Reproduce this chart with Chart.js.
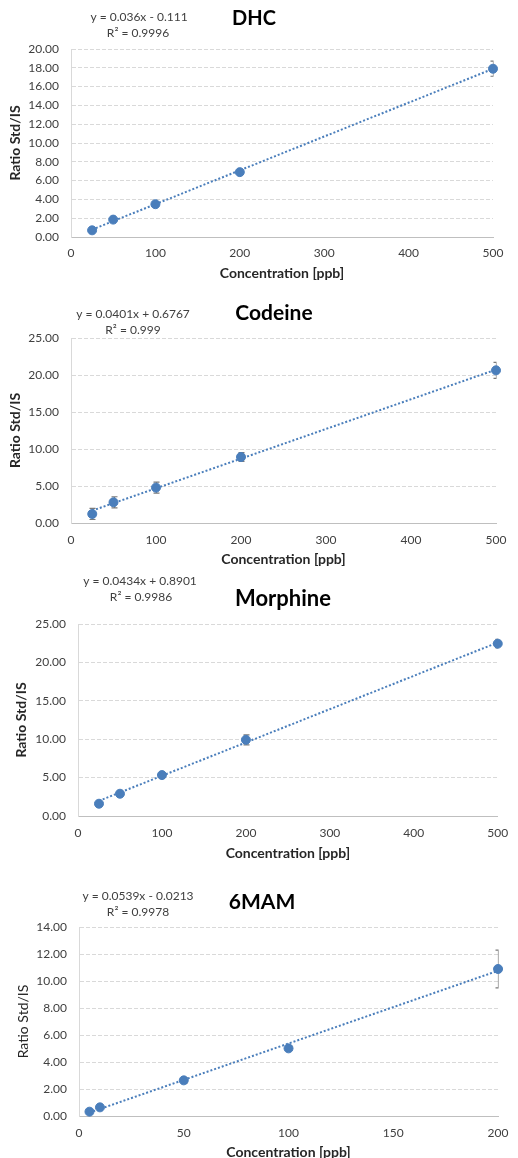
<!DOCTYPE html>
<html>
<head>
<meta charset="utf-8">
<script src="https://cdn.jsdelivr.net/npm/chart.js@4"></script>
<style>
body { margin: 0; background: #fff; overflow: hidden; }
#page { position: relative; width: 518px; height: 1158px; overflow: hidden; }
canvas { position: absolute; left: 0; }
</style>
</head>
<body>
<div id="page">
    <canvas id="dhc-chart" width="518" height="290" style="top:0px"></canvas>
    <canvas id="codeine-chart" width="518" height="290" style="top:290px"></canvas>
    <canvas id="morphine-chart" width="518" height="300" style="top:565px"></canvas>
    <canvas id="mam-chart" width="518" height="300" style="top:870px"></canvas>
</div>
<script>
// values
const dhcConc = [25, 50, 100, 200, 500];
const dhcRatio = [0.71, 1.85, 3.49, 6.90, 17.90];
const dhcError = [0.1, 0.1, 0.15, 0.2, 0.8];
const dhcTrend = [0.79, 17.89];
const dhcYTicks = [0, 2, 4, 6, 8, 10, 12, 14, 16, 18, 20];

const codeineConc = [25, 50, 100, 200, 500];
const codeineRatio = [1.22, 2.80, 4.78, 8.92, 20.63];
const codeineError = [0.75, 0.75, 0.75, 0.6, 1.08];
const codeineTrend = [1.68, 20.73];
const codeineYTicks = [0, 5, 10, 15, 20, 25];

const morphineConc = [25, 50, 100, 200, 500];
const morphineRatio = [1.60, 2.90, 5.33, 9.92, 22.44];
const morphineError = [0.1, 0.15, 0.15, 0.65, 0.55];
const morphineTrend = [1.98, 22.59];
const morphineYTicks = [0, 5, 10, 15, 20, 25];

const mamConc = [5, 10, 50, 100, 200];
const mamRatio = [0.32, 0.64, 2.64, 5.01, 10.89];
const mamError = [0.05, 0.05, 0.2, 0.15, 1.4];
const mamTrend = [0.25, 10.76];
const mamYTicks = [0, 2, 4, 6, 8, 10, 12, 14];

const xTicks500 = [0, 100, 200, 300, 400, 500];
const xTicks200 = [0, 50, 100, 150, 200];

const blue = '#4a7ebb';

Chart.defaults.font.family = 'Lato, "Open Sans", sans-serif';
Chart.defaults.color = '#404040';

// error bars, clipped left/right to the plot like Excel does
const errorBars = {
    id: 'errorBars',
    beforeDatasetsDraw(chart) {
        const ds = chart.data.datasets[1];
        const xs = chart.scales.x, ys = chart.scales.y;
        const area = chart.chartArea;
        const ctx = chart.ctx;
        ctx.save();
        ctx.beginPath();
        ctx.rect(area.left, 0, area.right - area.left + 0.5, chart.height);
        ctx.clip();
        ctx.strokeStyle = '#7a7a7a';
        ctx.lineWidth = 1.2;
        ds.data.forEach((p, i) => {
            const e = ds.errors[i];
            const px = Math.round(xs.getPixelForValue(p.x)) + 0.5;
            const top = ys.getPixelForValue(p.y + e);
            const bot = ys.getPixelForValue(p.y - e);
            ctx.beginPath();
            ctx.moveTo(px, top); ctx.lineTo(px, bot);
            ctx.moveTo(px - 3, top); ctx.lineTo(px + 3, top);
            ctx.moveTo(px - 3, bot); ctx.lineTo(px + 3, bot);
            ctx.stroke();
        });
        ctx.restore();
    }
};

// title and trendline equation texts
const textLabels = {
    id: 'textLabels',
    afterDraw(chart) {
        const items = labelSets[chart.canvas.id] || [];
        const ctx = chart.ctx;
        ctx.save();
        ctx.textAlign = 'center';
        ctx.textBaseline = 'middle';
        items.forEach(it => {
            ctx.font = it.font;
            ctx.fillStyle = it.color;
            ctx.fillText(it.text, it.x, it.y);
        });
        ctx.restore();
    }
};

const eqFont = '12px Lato, "Open Sans", sans-serif';
const labelSets = {
    'dhc-chart': [
        {text: 'DHC', x: 254, y: 19, font: 'bold 20px Lato, sans-serif', color: '#000'},
        {text: 'y = 0.036x - 0.111', x: 139, y: 17, font: eqFont, color: '#404040'},
        {text: 'R² = 0.9996', x: 138, y: 33, font: eqFont, color: '#404040'}
    ],
    'codeine-chart': [
        {text: 'Codeine', x: 274, y: 23, font: 'bold 21px Lato, sans-serif', color: '#000'},
        {text: 'y = 0.0401x + 0.6767', x: 133, y: 24, font: eqFont, color: '#404040'},
        {text: 'R² = 0.999', x: 133, y: 40, font: eqFont, color: '#404040'}
    ],
    'morphine-chart': [
        {text: 'Morphine', x: 283, y: 34, font: 'bold 22px Lato, sans-serif', color: '#000'},
        {text: 'y = 0.0434x + 0.8901', x: 140, y: 16, font: eqFont, color: '#404040'},
        {text: 'R² = 0.9986', x: 141, y: 32, font: eqFont, color: '#404040'}
    ],
    'mam-chart': [
        {text: '6MAM', x: 262, y: 32, font: 'bold 21px Lato, sans-serif', color: '#000'},
        {text: 'y = 0.0539x - 0.0213', x: 138, y: 26, font: eqFont, color: '#404040'},
        {text: 'R² = 0.9978', x: 138, y: 42, font: eqFont, color: '#404040'}
    ]
};

function buildChart(id, conc, ratio, err, trend, xTicks, yTicks, box) {
    const canvas = document.getElementById(id);
    const h = canvas.height;
    return new Chart(canvas, {
        type: 'scatter',
        data: {
            datasets: [{
                type: 'line',
                label: 'Trend',
                data: [{x: conc[0], y: trend[0]}, {x: conc[conc.length - 1], y: trend[1]}],
                borderColor: blue,
                borderWidth: 2,
                borderDash: [2, 2],
                pointRadius: 0,
                fill: false,
                order: 2
            }, {
                label: 'Ratio',
                data: conc.map((c, i) => ({x: c, y: ratio[i]})),
                errors: err,
                backgroundColor: blue,
                borderColor: blue,
                pointRadius: 4.5,
                pointHoverRadius: 4.5,
                clip: false,
                order: 1
            }]
        },
        options: {
            responsive: false,
            animation: false,
            devicePixelRatio: 1,
            layout: {
                padding: {left: 0, top: box.top, right: 518 - box.right, bottom: 0}
            },
            plugins: {
                legend: {display: false},
                tooltip: {enabled: false}
            },
            scales: {
                x: {
                    type: 'linear',
                    min: xTicks[0],
                    max: xTicks[xTicks.length - 1],
                    afterBuildTicks: s => { s.ticks = xTicks.map(v => ({value: v})); },
                    afterFit: s => { s.height = h - box.bottom; },
                    grid: {display: false, drawTicks: false},
                    border: {color: '#bfbfbf', width: 1},
                    ticks: {padding: box.xTickPad, font: {size: 12}, color: '#404040'},
                    title: {
                        display: true,
                        text: 'Concentration [ppb]',
                        color: '#262626',
                        font: {size: 14, weight: 'bold'},
                        padding: {top: 0, bottom: box.xTitlePad}
                    }
                },
                y: {
                    min: yTicks[0],
                    max: yTicks[yTicks.length - 1],
                    afterBuildTicks: s => { s.ticks = yTicks.map(v => ({value: v})); },
                    afterFit: s => { s.width = box.left; },
                    grid: {color: '#d9d9d9', drawTicks: false},
                    border: {display: true, color: '#d9d9d9', dash: [4, 2]},
                    ticks: {padding: 12, font: {size: 12}, color: '#404040', callback: v => v.toFixed(2)},
                    title: {
                        display: true,
                        text: 'Ratio Std/IS',
                        color: '#262626',
                        font: {size: 14, weight: box.yBold ? 'bold' : 'normal'},
                        padding: {top: box.yTitlePad, bottom: 0}
                    }
                }
            }
        },
        plugins: [errorBars, textLabels]
    });
}

buildChart('dhc-chart', dhcConc, dhcRatio, dhcError, dhcTrend, xTicks500, dhcYTicks,
    {left: 71, right: 493, top: 49, bottom: 237, xTickPad: 8.8, xTitlePad: 8.6, yTitlePad: 7.3, yBold: true});
buildChart('codeine-chart', codeineConc, codeineRatio, codeineError, codeineTrend, xTicks500, codeineYTicks,
    {left: 71, right: 496, top: 48, bottom: 233, xTickPad: 9.8, xTitlePad: 12.6, yTitlePad: 6.9, yBold: true});
buildChart('morphine-chart', morphineConc, morphineRatio, morphineError, morphineTrend, xTicks500, morphineYTicks,
    {left: 78, right: 506, top: 59, bottom: 251, xTickPad: 9.8, xTitlePad: 3.6, yTitlePad: 12.9, yBold: true});
buildChart('mam-chart', mamConc, mamRatio, mamError, mamTrend, xTicks200, mamYTicks,
    {left: 79, right: 502, top: 57, bottom: 246, xTickPad: 9.5, xTitlePad: 8.9, yTitlePad: 15.4, yBold: false});
</script>
</body>
</html>
